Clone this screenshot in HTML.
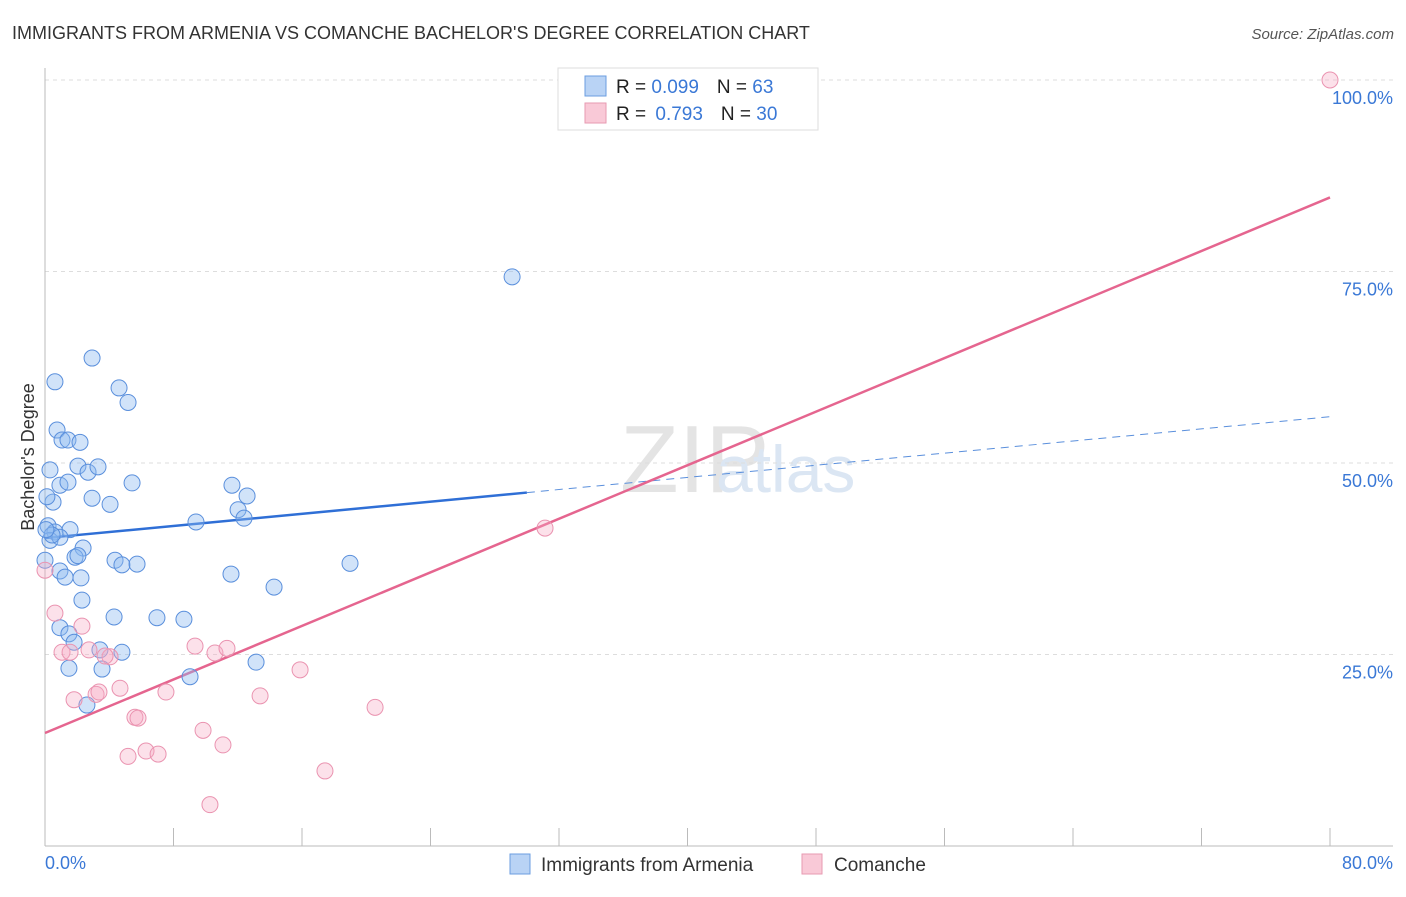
<!DOCTYPE html>
<html><head><meta charset="utf-8"><style>
body{margin:0;background:#fff;font-family:"Liberation Sans",sans-serif;}
svg text{font-family:"Liberation Sans",sans-serif;}
</style></head><body>
<svg id="chart" width="1406" height="892" xmlns="http://www.w3.org/2000/svg">
<text x="12" y="39" font-size="18" fill="#333">IMMIGRANTS FROM ARMENIA VS COMANCHE BACHELOR'S DEGREE CORRELATION CHART</text>
<text x="1394" y="39" font-size="15" fill="#555" text-anchor="end" font-style="italic">Source: ZipAtlas.com</text>
<text x="620" y="492" font-size="96" fill="#e4e4e4" font-family="Liberation Serif">ZIP</text>
<text x="716" y="492" font-size="66" fill="#dbe6f3">atlas</text>
<g id="grid"></g>
<g id="axes"></g>
<g id="lines"></g>
<g id="points"></g>
<text x="34" y="457" font-size="18" fill="#333" text-anchor="middle" transform="rotate(-90 34 457)">Bachelor's Degree</text>
<text x="45" y="869" font-size="18" fill="#3a78d6">0.0%</text>
<text x="1393" y="869" font-size="18" fill="#3a78d6" text-anchor="end">80.0%</text>
<g>
<rect x="558" y="68" width="260" height="62" fill="#fff" stroke="#ddd"/>
<rect x="585" y="76" width="21" height="20" fill="#b9d3f5" stroke="#6b9ee0"/>
<rect x="585" y="103" width="21" height="20" fill="#f9c9d7" stroke="#e79ab2"/>
<text x="616" y="93" font-size="19" fill="#222">R = <tspan fill="#3a78d6">0.099</tspan><tspan dx="18">N = </tspan><tspan fill="#3a78d6">63</tspan></text>
<text x="616" y="120" font-size="19" fill="#222">R = <tspan fill="#3a78d6" dx="4">0.793</tspan><tspan dx="18">N = </tspan><tspan fill="#3a78d6">30</tspan></text>
</g>
<g>
<rect x="510" y="854" width="20" height="20" fill="#b9d3f5" stroke="#6b9ee0"/>
<text x="541" y="871" font-size="19" fill="#333">Immigrants from Armenia</text></g>
<g>
<rect x="802" y="854" width="20" height="20" fill="#f9c9d7" stroke="#e79ab2"/>
<text x="834" y="871" font-size="19" fill="#333">Comanche</text></g>
</svg>
<script>
const yTicks=[25,50,75,100];
const xTicks=[0,8,16,24,32,40,48,56,64,72,80];
const blueX=[2.93,0.62,4.61,5.17,0.75,1.06,1.43,2.18,2.05,2.68,3.30,0.31,0.93,1.43,0.50,2.93,4.05,5.42,11.64,12.58,12.02,12.39,9.40,0.19,0.62,1.56,0.31,0.93,0,2.37,1.87,2.05,4.36,4.79,5.73,0.93,1.25,2.24,2.30,4.30,6.97,8.65,11.58,14.26,18.99,0.93,1.49,1.81,3.42,4.79,3.55,1.49,9.03,13.14,2.61,29.08,0.44,0.12,0.06];
const blueY=[63.7,60.6,59.8,57.9,54.3,53.0,53.0,52.7,49.6,48.8,49.5,49.1,47.1,47.5,44.9,45.4,44.6,47.4,47.1,45.7,43.9,42.8,42.3,41.8,41.0,41.3,39.9,40.3,37.3,38.9,37.7,37.9,37.3,36.7,36.8,35.9,35.1,35.0,32.1,29.9,29.8,29.6,35.5,33.8,36.9,28.5,27.7,26.6,25.6,25.3,23.1,23.2,22.1,24.0,18.4,74.3,40.6,45.6,41.3];
const pinkX=[80,31.13,0.62,2.30,1.06,1.56,2.74,4.05,3.74,9.34,10.58,11.33,1.81,3.18,3.36,4.67,7.53,13.39,15.88,20.55,5.60,5.79,9.84,11.08,5.17,6.29,7.04,17.43,10.27,0];
const pinkY=[100,41.5,30.4,28.7,25.3,25.3,25.6,24.7,24.8,26.1,25.2,25.8,19.1,19.8,20.1,20.6,20.1,19.6,23.0,18.1,16.8,16.7,15.1,13.2,11.7,12.4,12.0,9.8,5.4,36];
const blueFit=[40.2,0.198];
const pinkFit=[14.75,0.874];
const X=v=>45+v/80*1285, Y=v=>846-v/100*766;
const NS="http://www.w3.org/2000/svg";
function mk(p,t,a){const e=document.createElementNS(NS,t);for(const k in a)e.setAttribute(k,a[k]);document.getElementById(p).appendChild(e);return e;}
yTicks.forEach(v=>{
 const l=mk('grid','line',{x1:45,x2:1393,y1:Y(v),y2:Y(v),stroke:'#ddd','stroke-dasharray':'4,4'});
 
 
 const t=mk('grid','text',{x:1393,y:Y(v)+24,'font-size':18,fill:'#3a78d6','text-anchor':'end'});
 t.textContent=v.toFixed(1)+'%';
 
 
});
const ax=mk('axes','line',{x1:45,x2:45,y1:68,y2:846,stroke:'#bbb'});


const bx=mk('axes','line',{x1:45,x2:1393,y1:846,y2:846,stroke:'#bbb'});


xTicks.forEach(v=>{
 const t=mk('axes','line',{x1:X(v),x2:X(v),y1:828,y2:846,stroke:'#bbb'});
 
 
});
function fitLine(f,x0,x1,col,w,dash,name){
 const a={x1:X(x0),y1:Y(f[0]+f[1]*x0),x2:X(x1),y2:Y(f[0]+f[1]*x1),stroke:col,'stroke-width':w};
 if(dash)a['stroke-dasharray']=dash;
 const l=mk('lines','line',a);
 
 
}
fitLine(blueFit,0,30,'#2f6fd6',2.5,null,'armenia-trend-line');
fitLine(blueFit,30,80,'#5a8fdc',1,'8,6','armenia-trend-extension');
fitLine(pinkFit,0,80,'#e5658f',2.5,null,'comanche-trend-line');
blueX.forEach((x,i)=>{
 const c=mk('points','circle',{cx:X(x),cy:Y(blueY[i]),r:8,fill:'rgba(140,185,240,0.4)',stroke:'#5a8fdc','stroke-width':1});
 
 
});
pinkX.forEach((x,i)=>{
 const c=mk('points','circle',{cx:X(x),cy:Y(pinkY[i]),r:8,fill:'rgba(245,170,195,0.35)',stroke:'#ea93b0','stroke-width':1});
 
 
});
</script>
</body></html>
